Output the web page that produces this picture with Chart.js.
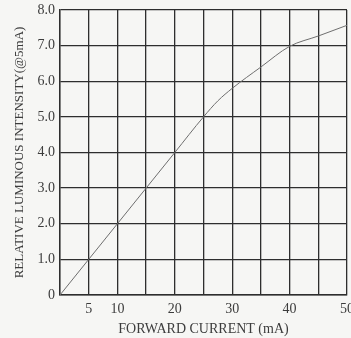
<!DOCTYPE html>
<html>
<head>
<meta charset="utf-8">
<script src="https://cdn.jsdelivr.net/npm/chart.js@4/dist/chart.umd.min.js"></script>
<style>
  html, body { margin: 0; padding: 0; background: #f6f6f4; overflow: hidden; }
  #wrap { width: 351px; height: 338px; position: relative; }
</style>
</head>
<body>
<div id="wrap"><canvas id="myChart" width="351" height="338"></canvas></div>
<script>
// forward current (mA) vs relative luminous intensity
const current = [0, 5, 10, 15, 20, 25, 27.5, 30, 35, 40, 45, 50];
const intensity = [0, 1, 2, 3, 4, 5, 5.45, 5.8, 6.4, 6.98, 7.27, 7.57];

const xTickLabels = { 5: '5', 10: '10', 20: '20', 30: '30', 40: '40', 50: '50' };
const yTickLabels = ['0', '1.0', '2.0', '3.0', '4.0', '5.0', '6.0', '7.0', '8.0'];

const ink = '#3c3c3c';
const gridInk = '#2e2e2e';
const serif = 'Liberation Serif';

const ctx = document.getElementById('myChart');
new Chart(ctx, {
  type: 'line',
  data: {
    datasets: [
      {
        label: 'Relative luminous intensity',
        data: current.map((x, i) => ({ x: x, y: intensity[i] })),
        borderColor: '#6e6e6e',
        borderWidth: 1,
        pointRadius: 0,
        fill: false,
        cubicInterpolationMode: 'monotone',
      },
    ],
  },
  options: {
    responsive: false,
    animation: false,
    layout: { padding: { left: 0, right: 4, top: 10, bottom: 0 } },
    plugins: { legend: { display: false }, tooltip: { enabled: false } },
    scales: {
      x: {
        type: 'linear',
        min: 0,
        max: 50,
        afterFit: (scale) => {
          scale.height = 43;
          scale.paddingRight = 0;
          scale.paddingLeft = 0;
        },
        border: { color: gridInk, width: 1.4 },
        grid: { color: gridInk, lineWidth: 1.3, drawTicks: false },
        ticks: {
          stepSize: 5,
          padding: 6,
          maxRotation: 0,
          autoSkip: false,
          color: ink,
          font: { family: serif, size: 14 },
          callback: (v) => xTickLabels[v] || '',
        },
        title: {
          display: true,
          text: 'FORWARD CURRENT (mA)',
          color: ink,
          font: { family: serif, size: 14 },
          padding: { top: 5, bottom: 0 },
        },
      },
      y: {
        min: 0,
        max: 8,
        afterFit: (scale) => {
          scale.width = 60;
          scale.paddingTop = 0;
          scale.paddingBottom = 0;
        },
        border: { color: gridInk, width: 1.4 },
        grid: { color: gridInk, lineWidth: 1.3, drawTicks: false },
        ticks: {
          stepSize: 1,
          padding: 5,
          color: ink,
          font: { family: serif, size: 14 },
          callback: (v) => yTickLabels[v],
        },
        title: {
          display: true,
          text: 'RELATIVE LUMINOUS INTENSITY(@5mA)',
          color: ink,
          font: { family: serif, size: 13 },
          padding: { top: 12, bottom: 0 },
        },
      },
    },
  },
});
</script>
</body>
</html>
